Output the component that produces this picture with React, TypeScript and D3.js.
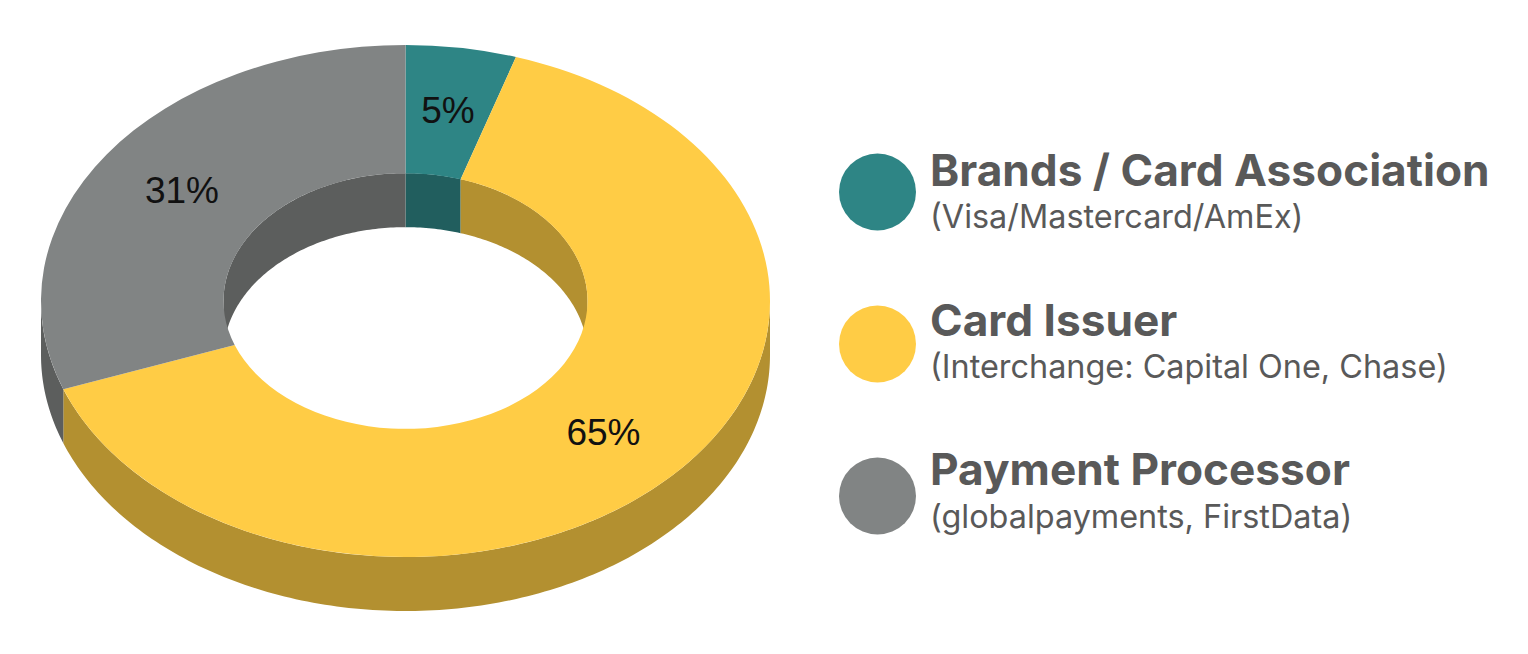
import React from 'react';
import * as d3 from 'd3';

const categories = ['Brands / Card Association', 'Card Issuer', 'Payment Processor'];
const subtitles = ['(Visa/Mastercard/AmEx)', '(Interchange: Capital One, Chase)', '(globalpayments, FirstData)'];
const shares = [4.9, 64.5, 30.6];
const topColors = ['#2e8585', '#ffcc45', '#818484'];
const wallColors = ['#215e5e', '#b39030', '#5c5e5d'];

const W = 1528;
const H = 654;
const cx = 405.5;
const cy = 301;
const outerR = 364.5;
const innerR = 182;
const squash = 256 / 364.5;
const depth = 54;

const pie = d3.pie<number>().sort(null).value((d) => d);
const arcs = pie(shares);
const topArc = d3.arc<d3.PieArcDatum<number>>().innerRadius(innerR).outerRadius(outerR);

// side wall of a slice between two angles, at one radius
const wallPath = (r: number, a0: number, a1: number) => {
  const n = Math.max(2, Math.ceil((a1 - a0) * 60));
  const angles = d3.range(n + 1).map((i) => a0 + ((a1 - a0) * i) / n);
  const top = angles.map((a) => [r * Math.sin(a), -r * squash * Math.cos(a)] as [number, number]);
  const bottom = top.map(([x, y]) => [x, y + depth] as [number, number]).reverse();
  return d3.line()([...top, ...bottom]) + 'Z';
};

const App: React.FC = () => {
  const circleY = d3.scalePoint<string>().domain(categories).range([192, 496]);
  const titleY = d3.scalePoint<string>().domain(categories).range([186, 485]);
  const subY = d3.scalePoint<string>().domain(categories).range([227.5, 528]);

  return (
    <svg
      width={W}
      height={H}
      style={{ position: 'absolute', left: 0, top: 0, background: '#fff' }}
    >
      <g transform={`translate(${cx},${cy})`}>
        {/* inner wall shows on the far half, outer wall on the near half */}
        {arcs.map((d, i) => {
          const parts: [number, number][] = [
            [d.startAngle, Math.min(d.endAngle, Math.PI / 2)],
            [Math.max(d.startAngle, (Math.PI * 3) / 2), d.endAngle],
          ];
          return parts
            .filter(([a, b]) => b > a)
            .map(([a, b], j) => (
              <path key={`in${i}${j}`} d={wallPath(innerR, a, b)} fill={wallColors[i]} />
            ));
        })}
        {arcs.map((d, i) => {
          const a = Math.max(d.startAngle, Math.PI / 2);
          const b = Math.min(d.endAngle, (Math.PI * 3) / 2);
          if (b <= a) return null;
          return <path key={`out${i}`} d={wallPath(outerR, a, b)} fill={wallColors[i]} />;
        })}
        <g transform={`scale(1,${squash})`}>
          {arcs.map((d, i) => (
            <path key={i} d={topArc(d) ?? ''} fill={topColors[i]} />
          ))}
        </g>
        {arcs.map((d, i) => {
          const [x, y] = topArc.centroid(d);
          return (
            <text
              key={i}
              x={x + 0.5}
              y={y * squash + 11.5}
              textAnchor="middle"
              fontFamily="Liberation Sans"
              fontSize={37}
              fill="#111"
            >
              {Math.round(d.value)}%
            </text>
          );
        })}
      </g>
      {categories.map((c, i) => (
        <g key={c}>
          <circle cx={877.5} cy={circleY(c)} r={38.5} fill={topColors[i]} />
          <text
            x={930}
            y={titleY(c)}
            fontFamily="Inter"
            fontWeight={700}
            fontSize={44.2}
            fill="#595959"
          >
            {c}
          </text>
          <text x={930} y={subY(c)} fontFamily="Inter" fontSize={32.4} fill="#595959">
            {subtitles[i]}
          </text>
        </g>
      ))}
    </svg>
  );
};

export default App;
